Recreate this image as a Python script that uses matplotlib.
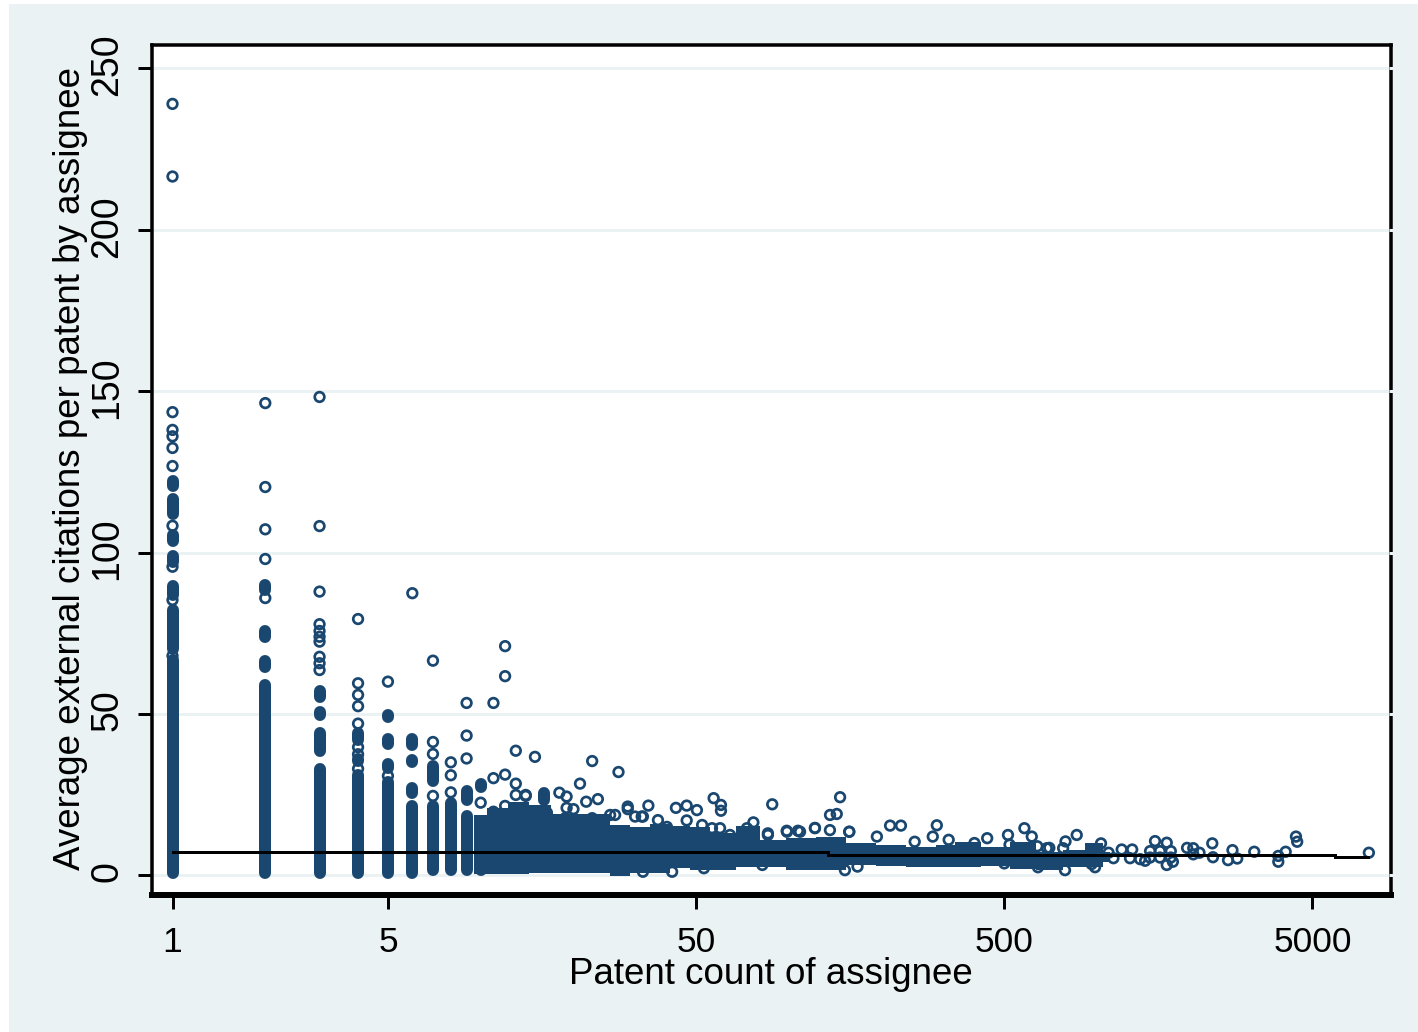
import matplotlib
matplotlib.use("Agg")
import matplotlib.pyplot as plt
from matplotlib.patches import Rectangle
from matplotlib.transforms import ScaledTranslation

# ---------- data ----------
# solid stacks of overlapping markers at integer patent counts
stack_x = [1, 1, 1, 1, 1, 1, 1,
           2, 2, 2, 2,
           3, 3, 3, 3,
           4, 4, 4,
           5, 5, 5, 5,
           6, 6, 6, 6,
           7, 7,
           8,
           9, 9,
           10, 10,
           16]
stack_lo = [120.5, 112, 103.6, 97, 87, 70, 0.7,
            73.8, 64.5, 0.7, 88.5,
            55.2, 49.6, 38.5, 0.7,
            42, 35.4, 0.7,
            49, 40.7, 33.2, 0.7,
            40.4, 35, 25.5, 0.7,
            29.2, 1.5,
            1.5,
            23.3, 1.5,
            27.4, 1.5,
            23.3]
stack_hi = [122.2, 116.5, 105.5, 99, 89.6, 82.2, 66.7,
            75.7, 66.4, 59, 90,
            57, 50.5, 44, 33,
            44, 36, 31,
            49.7, 42.2, 34.5, 29,
            42.2, 35.7, 27.1, 21.5,
            33.9, 21.5,
            22.5,
            26, 18.4,
            28.3, 16.8,
            25.6]

# isolated hollow markers
ring_x = [1, 1, 1, 1, 1, 1, 1, 1, 1, 1, 1,
          2, 2, 2, 2, 2,
          3, 3, 3, 3, 3, 3, 3, 3, 3, 3,
          4, 4, 4, 4, 4, 4, 4, 4,
          5, 5,
          6,
          7, 7, 7, 7,
          8, 8, 8,
          9, 9, 9,
          10, 11, 11, 12, 12, 12, 13, 13, 13, 14, 15,
          18, 19, 21, 22, 23, 24, 28, 30,
          35, 43, 46.6, 50.3, 57, 60.2, 60.2, 88.3, 146.6, 143, 136,
          213, 231, 302, 121.5, 157, 76.7, 37.6, 31.7, 33.3, 26.3, 20, 30,
          98.4, 107, 85.5,
          514, 581, 614, 859, 1030, 1542, 1683, 2052, 2365, 2750, 3236,
          3873, 4093, 4420, 4460, 7620,
          1683, 1762, 1432, 1279, 1130, 1202, 2660, 2377, 2052,
          787, 643, 985, 776, 687, 500,
          1486, 1600, 1735, 1486, 1600, 1735, 1959, 2150, 1300, 1380, 1090, 2850, 3873,
          33.6, 40.2, 46.6, 52.3, 56.3, 59.8, 64.4, 73.1, 76, 85.5, 98.6, 108.7,
          121.5, 135.9, 157, 193, 256, 293,
          11, 12, 14, 16.4, 19, 18.8, 23, 27.3,
          33.6, 41.8, 53, 82, 152, 167,
          330, 400, 440, 520, 640, 700, 790, 905, 960]
ring_y = [239, 216.5, 143.5, 138, 136, 132.4, 126.8, 108.3, 95.6, 85.3, 68,
          146.3, 120.3, 107.2, 98, 85.9,
          148.2, 108.2, 87.9, 77.8, 75.7, 73.9, 72.4, 67.7, 65.7, 63.6,
          79.4, 59.5, 55.9, 52.4, 47, 39.7, 37.5, 33,
          60, 30.8,
          87.4,
          66.5, 41.3, 37.6, 24.6,
          35, 31, 25.7,
          53.4, 43.3, 36.2,
          22.5, 53.4, 30.1, 71, 61.7, 31.2, 38.6, 28.4, 24.9, 24.6, 36.7,
          25.6, 24.4, 28.4, 22.8, 35.4, 23.6, 32, 21.3,
          21.6, 20.9, 21.6, 20.2, 23.9, 21.8, 20, 22, 24.2, 19, 18.7,
          15.4, 15.4, 15.5, 14.7, 13.5, 16.4, 17.1, 18.2, 18.2, 18.7, 20.5, 20.5,
          13.8, 13.8, 13,
          12.5, 14.6, 12, 12.5, 9.9, 10.6, 10.1, 8.4, 9.9, 7.8, 7.3,
          6, 7.3, 12, 10.4, 7,
          3.2, 4.2, 4.5, 5.3, 5.3, 8, 4.7, 5.6, 6.5,
          1.6, 2.5, 2.5, 8.4, 8.4, 3.7,
          5.5, 5.5, 5.5, 7.5, 7.5, 7.5, 8.5, 7, 8, 5, 7, 5.2, 4.2,
          18.2, 15, 17, 15.6, 14.6, 14.6, 12.5, 14.6, 13.5, 12.5, 13.5, 13.5,
          14.6, 14, 13.5, 12, 10.4, 12,
          19.7, 21.5, 24.9, 19.4, 20.9, 17.7, 17.7, 18.7,
          1.1, 1.1, 2.2, 3.2, 1.6, 2.7,
          11, 10, 11.5, 9.5, 9, 8.5, 10.5, 4.5, 3.5]

# visible outline of the continuous mass of markers
mass_x = [9.5, 11.5, 13, 15.6, 18.1, 24.4, 28.3, 32.9, 38.2, 44.3, 51.4, 59.8, 74.8,
          86.8, 108.7, 135.9, 170, 213, 266, 333, 359, 484, 562, 703, 847, 984, 1101]
mass_top = [18.7, 20.8, 22.8, 21.8, 19, 19, 15.6, 15, 16, 15.3, 15, 13, 15.3,
            10.9, 11.5, 12, 10, 9.4, 8.9, 9.4, 10.4, 8.9, 10.4, 7.3, 7.8, 10, 7.3]
mass_bottom = [0.5, 0.5, 0.5, 0.6, 0.6, 0.6, -0.3, 0.6, 0.6, 2.2, 1.6, 1.8, 2.7,
               2.7, 1.6, 1.6, 3.3, 3, 2.7, 2.5, 2.6, 3, 2, 1.6, 2.5, 2.6, 4]

# step line (fitted mean by bin)
step_x = [1, 134, 5915, 7568]
step_y = [7.3, 6.4, 5.6, 5.6]

x_ticks = [1, 5, 50, 500, 5000]
y_ticks = [0, 50, 100, 150, 200, 250]
x_title = "Patent count of assignee"
y_title = "Average external citations per patent by assignee"

# ---------- style ----------
W, H = 1418, 1032
NAVY = "#1a476f"
BG = "#eaf2f3"
PX = 72 / 100  # points per pixel at dpi 100
plt.rcParams["font.family"] = ["Liberation Sans", "DejaVu Sans"]

fig = plt.figure(figsize=(W / 100, H / 100), dpi=100, facecolor="white")
fig.patches.append(Rectangle((9 / W, 0), 1 - 9 / W, 1 - 4 / H, transform=fig.transFigure,
                             facecolor=BG, edgecolor="none", zorder=-5))

ax = fig.add_axes([151.7 / W, 1 - 895 / H, (1390.7 - 151.7) / W, (895 - 44.5) / H])
ax.set_xscale("log")
ax.set_xlim(0.856, 8970)
ax.set_ylim(-6.1, 257.4)
ax.set_facecolor("white")

for g in y_ticks:
    ax.axhline(g, color=BG, lw=3 * PX, zorder=1)

ax.fill_between(mass_x, mass_bottom, mass_top, color=NAVY, lw=0, step="mid", zorder=2)
ax.vlines(stack_x, stack_lo, stack_hi, color=NAVY, lw=12 * PX, capstyle="round", zorder=3)
ax.scatter(ring_x, ring_y, s=(9.6 * PX) ** 2, facecolors="none", edgecolors=NAVY,
           linewidths=2.7 * PX, zorder=4)
ax.plot(step_x, step_y, color="black", lw=3 * PX, drawstyle="steps-post",
        solid_joinstyle="miter", zorder=5)

for side in ("left", "top", "right"):
    ax.spines[side].set_linewidth(3.5 * PX)
ax.spines["bottom"].set_linewidth(6 * PX)

# the light grid lines cut through the right frame line
for g in y_ticks:
    ax.plot([0.9985, 1.0015], [g, g], transform=ax.get_yaxis_transform(), color=BG,
            lw=3 * PX, clip_on=False, zorder=6, solid_capstyle="butt")

ax.set_xticks(x_ticks)
ax.set_xticklabels([str(t) for t in x_ticks])
ax.xaxis.set_minor_locator(plt.NullLocator())
ax.set_yticks(y_ticks)
ax.set_yticklabels([str(t) for t in y_ticks], rotation=90, va="center")
ax.tick_params(axis="both", length=14 * PX, width=3 * PX, color="black")
ax.tick_params(axis="x", pad=12.5, labelsize=25.5)
ax.tick_params(axis="y", pad=9, labelsize=27)
shift_up = ScaledTranslation(0, 3.5 / 100, fig.dpi_scale_trans)
for lab in ax.get_yticklabels():
    lab.set_transform(lab.get_transform() + shift_up)

fig.text(771 / W, 1 - 975 / H, x_title, ha="center", va="center", fontsize=26.5)
fig.text(71 / W, 1 - 469 / H, y_title, ha="center", va="center", rotation=90, fontsize=26.5)

fig.savefig("out.png", dpi=100, facecolor="white")
